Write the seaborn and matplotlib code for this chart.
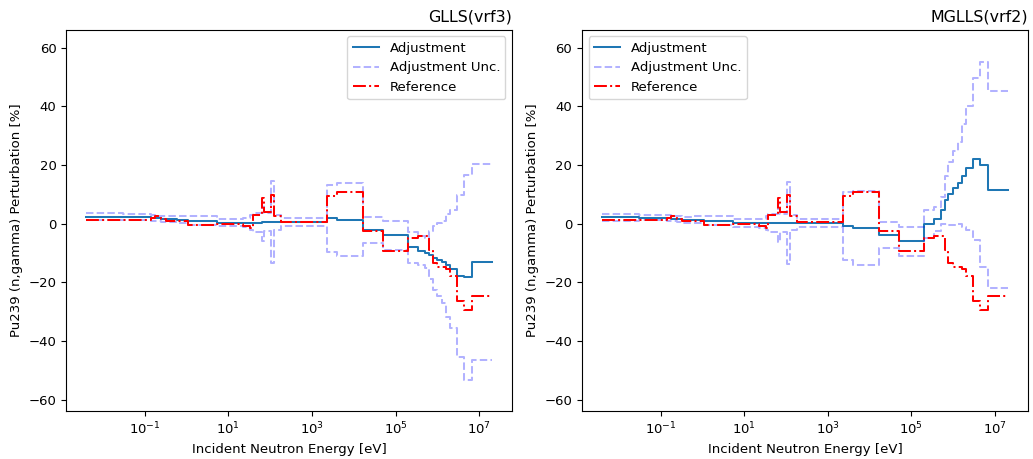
import numpy as np
import matplotlib
matplotlib.use("Agg")
import matplotlib.pyplot as plt
import seaborn as sns

# Group boundaries [eV] of the energy structure (33 groups)
energy_edges = [
    4.0e-3, 3.0e-2, 0.14, 0.18, 0.25, 0.33, 0.6, 1.1, 5.4, 22.0,
    33.0, 38.0, 65.0, 72.0, 104.0, 125.0, 181.0, 2.25e3, 4.0e3, 1.7e4,
    5.0e4, 2.0e5, 3.4e5, 5.0e5, 6.2e5, 7.7e5, 1.0e6, 1.3e6, 1.6e6, 2.0e6,
    3.0e6, 4.3e6, 6.7e6, 2.0e7,
]

# Reference perturbation [%] per group
reference = [
    1.2, 1.2, 1.9, 2.5, 1.7, 0.8, 0.8, -0.6, -0.1, -0.9,
    -1.5, 3.1, 8.7, 4.0, 9.9, 2.5, 0.45, 9.4, 10.8, -2.4,
    -9.4, -5.0, -4.3, -4.3, -8.9, -13.5, -14.6, -14.6, -15.5, -18.0,
    -26.5, -29.3, -24.8,
]

# GLLS adjustment and its uncertainty [%]
adj_glls = [
    2.3, 2.2, 1.9, 1.8, 1.6, 1.5, 1.3, 1.0, 0.4, 0.35,
    0.35, 0.4, 0.45, 0.5, 0.5, 0.5, 0.5, 1.9, 1.4, -2.2,
    -4.0, -8.1, -9.2, -10.0, -10.8, -11.7, -12.3, -13.2, -14.2, -15.5,
    -17.7, -18.3, -13.0,
]
unc_glls = [
    1.2, 1.0, 0.9, 0.9, 1.0, 1.0, 1.2, 1.5, 1.3, 1.5,
    2.5, 3.2, 6.5, 3.0, 14.0, 2.5, 1.4, 11.4, 12.4, 4.5,
    5.0, 5.2, 5.0, 5.0, 8.2, 10.8, 12.5, 14.0, 17.5, 20.0,
    27.6, 35.0, 33.5,
]

# MGLLS adjustment and its uncertainty [%]
adj_mglls = [
    2.2, 2.1, 1.9, 1.7, 1.6, 1.4, 1.3, 1.0, 0.2, 0.2,
    0.2, 0.2, 0.3, 0.3, 0.3, 0.3, 0.2, -0.7, -1.5, -3.8,
    -6.0, 0.0, 1.6, 4.5, 8.0, 10.2, 12.2, 13.9, 16.4, 19.0,
    22.0, 20.1, 11.6,
]
unc_mglls = [
    1.2, 1.0, 0.9, 0.9, 1.0, 1.0, 1.2, 1.5, 1.3, 1.5,
    2.5, 3.2, 6.5, 3.0, 14.0, 2.5, 1.4, 11.6, 12.5, 4.5,
    5.0, 4.8, 4.2, 4.5, 8.2, 10.8, 12.5, 14.0, 17.5, 21.0,
    27.6, 35.0, 33.5,
]

titles = ["GLLS(vrf3)", "MGLLS(vrf2)"]
legend_locs = ["upper right", "upper left"]


def step_values(vals):
    # repeat the last group value so the final step reaches the top edge
    v = np.asarray(vals, dtype=float)
    return np.append(v, v[-1])


plt.rcParams["font.family"] = ["DejaVu Sans"]
plt.rcParams["font.size"] = 9.5

fig, axes = plt.subplots(1, 2, figsize=(10.33, 4.59), dpi=100)
fig.subplots_adjust(left=0.064, right=0.995, top=0.935, bottom=0.105, wspace=0.157)

x = np.asarray(energy_edges)
panels = [(adj_glls, unc_glls), (adj_mglls, unc_mglls)]
lw = 1.45

for ax, (adj, unc), title, loc in zip(axes, panels, titles, legend_locs):
    adj_a = np.asarray(adj)
    unc_a = np.asarray(unc)
    common = dict(ax=ax, estimator=None, sort=False, drawstyle="steps-post")
    sns.lineplot(x=x, y=step_values(adj_a), color="#1f77b4", lw=lw,
                 label="Adjustment", **common)
    sns.lineplot(x=x, y=step_values(adj_a + unc_a), color="b", alpha=0.3,
                 linestyle="--", lw=lw, label="Adjustment Unc.", **common)
    sns.lineplot(x=x, y=step_values(adj_a - unc_a), color="b", alpha=0.3,
                 linestyle="--", lw=lw, **common)
    sns.lineplot(x=x, y=step_values(reference), color="r",
                 linestyle="-.", lw=lw, label="Reference", **common)
    ax.set_xscale("log")
    ax.set_ylim(-63.8, 66.1)
    ax.set_xlabel("Incident Neutron Energy [eV]")
    ax.set_ylabel("Pu239 (n,gamma) Perturbation [%]")
    ax.set_title(title, loc="right")
    ax.legend(loc=loc)

fig.savefig("out.png", dpi=100)
